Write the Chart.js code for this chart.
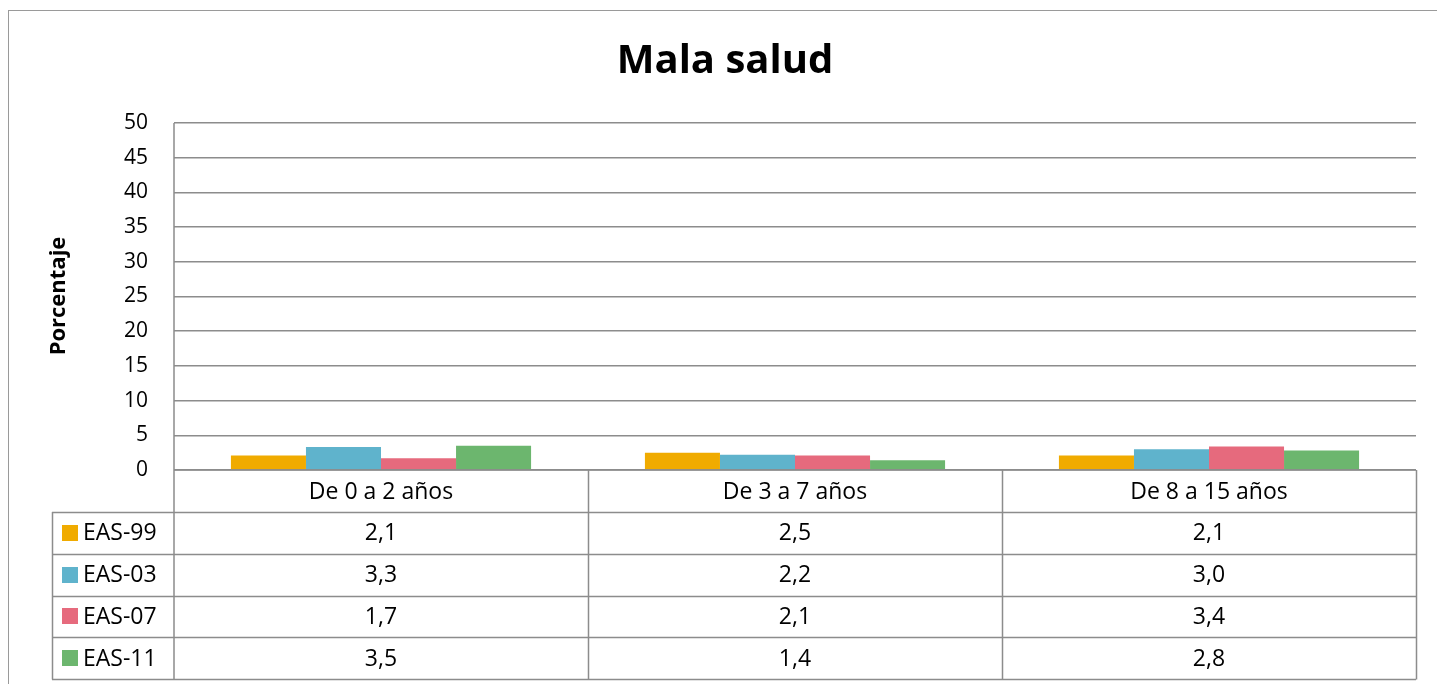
<!DOCTYPE html>
<html>
<head>
<meta charset="utf-8">
<script src="https://cdn.jsdelivr.net/npm/chart.js@4.4.1/dist/chart.umd.min.js"></script>
<style>
html,body{margin:0;padding:0;background:#fff;}
#wrap{position:relative;width:1437px;height:684px;}
#frame{position:absolute;left:8px;top:10px;width:1440px;height:700px;border:1px solid #9a9a9a;box-sizing:border-box;}
canvas{position:absolute;left:0;top:0;}
</style>
</head>
<body>
<div id="wrap"><div id="frame"></div><canvas id="c" width="1437" height="684"></canvas></div>
<script>
const categories = ["De 0 a 2 años", "De 3 a 7 años", "De 8 a 15 años"];
const seriesNames = ["EAS-99", "EAS-03", "EAS-07", "EAS-11"];
const eas99 = [2.1, 2.5, 2.1];
const eas03 = [3.3, 2.2, 3.0];
const eas07 = [1.7, 2.1, 3.4];
const eas11 = [3.5, 1.4, 2.8];
const yTicks = [0, 5, 10, 15, 20, 25, 30, 35, 40, 45, 50];
const colors = ["#F0AB00", "#5FB3CC", "#E66A7D", "#6CB66E"];

const FONT = "'Open Sans', 'Noto Sans', sans-serif";
const LINE = "#8c8c8c";

function fmt(v){ return v.toFixed(1).replace('.', ','); }

const tablePlugin = {
  id: 'dataTable',
  afterDraw(chart){
    const ctx = chart.ctx;
    const x = chart.scales.x;
    const ca = chart.chartArea;
    const colW = (ca.right - ca.left) / categories.length;
    const legendLeft = 52;
    const headerH = 42;
    const rowH = 41.75;
    const top = ca.bottom;
    const datasets = chart.data.datasets;
    ctx.save();
    ctx.strokeStyle = LINE;
    ctx.lineWidth = 1.5;
    ctx.beginPath();
    ctx.moveTo(ca.left, top); ctx.lineTo(ca.right, top);
    for (let r = 0; r <= datasets.length; r++) {
      const yy = Math.round(top + headerH + r * rowH) + 0.5;
      ctx.moveTo(legendLeft, yy); ctx.lineTo(ca.right, yy);
    }
    const bottom = Math.round(top + headerH + datasets.length * rowH) + 0.5;
    ctx.moveTo(ca.left, ca.top); ctx.lineTo(ca.left, bottom);
    for (let i = 1; i <= categories.length; i++) {
      const xx = Math.round(ca.left + i * colW) + 0.5;
      ctx.moveTo(xx, top); ctx.lineTo(xx, bottom);
    }
    const lx = legendLeft + 0.5;
    ctx.moveTo(lx, top + headerH); ctx.lineTo(lx, bottom);
    ctx.stroke();

    ctx.fillStyle = '#000';
    ctx.font = "23px " + FONT;
    ctx.textAlign = 'center';
    ctx.textBaseline = 'middle';
    categories.forEach((c, i) => {
      ctx.fillText(c, x.getPixelForValue(i), top + headerH / 2 + 1);
    });
    datasets.forEach((ds, r) => {
      const cy = top + headerH + r * rowH + rowH / 2 + 1;
      ctx.fillStyle = ds.backgroundColor;
      ctx.fillRect(62, Math.round(cy - 9), 16, 16);
      ctx.fillStyle = '#000';
      ctx.textAlign = 'left';
      ctx.fillText(ds.label, 83, cy);
      ctx.textAlign = 'center';
      ds.data.forEach((v, i) => {
        ctx.fillText(fmt(v), x.getPixelForValue(i), cy);
      });
    });
    ctx.save();
    ctx.translate(59, 296);
    ctx.rotate(-Math.PI / 2);
    ctx.font = "bold 22px " + FONT;
    ctx.textAlign = 'center';
    ctx.textBaseline = 'middle';
    ctx.fillText('Porcentaje', 0, 0);
    ctx.restore();
    ctx.restore();
  }
};

const allSeries = [eas99, eas03, eas07, eas11];
new Chart(document.getElementById('c'), {
  type: 'bar',
  data: {
    labels: categories,
    datasets: seriesNames.map((n, i) => ({
      label: n,
      data: allSeries[i],
      backgroundColor: colors[i],
      borderWidth: 0,
      barPercentage: 1.0,
      categoryPercentage: 0.725
    }))
  },
  options: {
    responsive: false,
    animation: false,
    devicePixelRatio: 1,
    layout: { padding: { left: 34, right: 21, top: 0, bottom: 214 } },
    plugins: {
      legend: { display: false },
      tooltip: { enabled: false },
      title: {
        display: true,
        text: 'Mala salud',
        color: '#000',
        font: { family: FONT, size: 40, weight: 'bold' },
        padding: { top: 38, bottom: 37 }
      }
    },
    scales: {
      x: {
        display: false
      },
      y: {
        min: 0, max: 50,
        afterFit(s){ s.width = 140; },
        afterBuildTicks(s){ s.ticks = yTicks.map(v => ({ value: v })); },
        border: { display: false },
        grid: { color: LINE, lineWidth: 1.5, drawTicks: false },
        ticks: {
          color: '#000',
          padding: 26,
          font: { family: FONT, size: 21 }
        }
      }
    }
  },
  plugins: [tablePlugin]
});
</script>
</body>
</html>
